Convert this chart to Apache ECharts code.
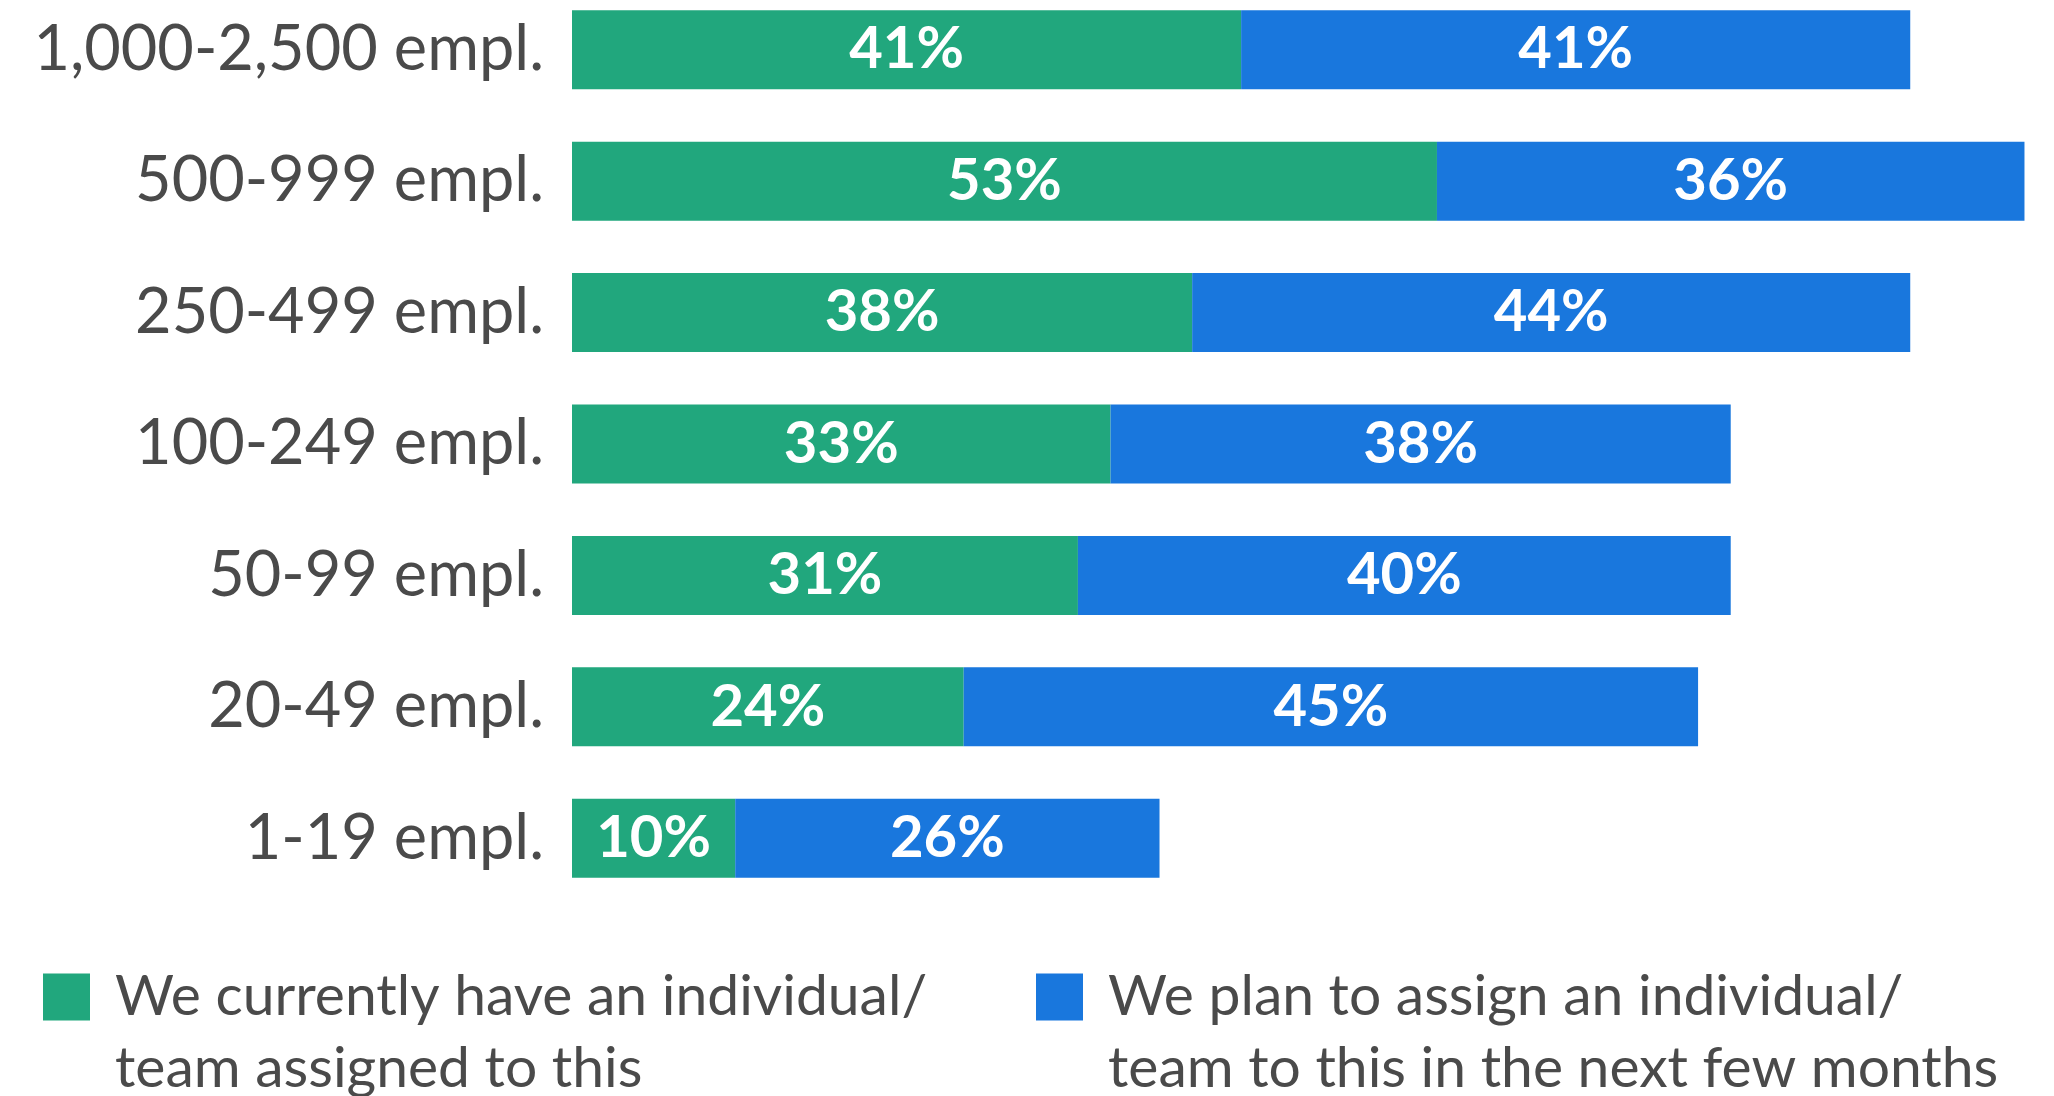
<!DOCTYPE html>
<html>
<head>
<meta charset="utf-8">
<script src="https://cdn.jsdelivr.net/npm/echarts@6/dist/echarts.min.js"></script>
<style>
  html, body { margin: 0; padding: 0; background: #ffffff; }
  #chart { width: 2054px; height: 1096px; }
</style>
</head>
<body>
<div id="chart"></div>
<script>
// Company size groups, listed top to bottom
const categories = ['1,000-2,500 empl.', '500-999 empl.', '250-499 empl.', '100-249 empl.', '50-99 empl.', '20-49 empl.', '1-19 empl.'];
// Share of companies (%) per group
const currentlyAssigned = [41, 53, 38, 33, 31, 24, 10];
const planToAssign = [41, 36, 44, 38, 40, 45, 26];
const seriesNames = [
  'We currently have an individual/\nteam assigned to this',
  'We plan to assign an individual/\nteam to this in the next few months'
];

const GREEN = '#21a77d';
const BLUE = '#1977dd';
const TEXT = '#4a4a4a';
const FONT = 'Lato, "Open Sans", sans-serif';

const chart = echarts.init(document.getElementById('chart'));

const valueLabel = {
  show: true,
  position: 'inside',
  color: '#ffffff',
  fontFamily: FONT,
  fontWeight: 'bold',
  fontSize: 58,
  formatter: p => p.value + '%'
};

// legend text: a leading blank line puts the first text line level with the swatch
const legendText = {
  color: TEXT,
  fontFamily: FONT,
  fontSize: 57,
  lineHeight: 72,
  padding: [0, 0, 0, 20]
};
const legendFormatter = name => '\n' + name;

chart.setOption({
  animation: false,
  backgroundColor: '#ffffff',
  grid: { left: 572, top: -16, width: 1632, height: 920, containLabel: false, outerBoundsMode: 'none' },
  xAxis: {
    type: 'value', min: 0, max: 100, show: false
  },
  yAxis: {
    type: 'category',
    data: categories,
    inverse: true,
    axisLine: { show: false },
    axisTick: { show: false },
    axisLabel: { color: TEXT, fontFamily: FONT, fontSize: 63, margin: 28 }
  },
  legend: [
    {
      data: [seriesNames[0]], left: 43, top: 889, padding: 0,
      itemWidth: 47, itemHeight: 47, icon: 'rect', textStyle: legendText,
      formatter: legendFormatter
    },
    {
      data: [seriesNames[1]], left: 1036, top: 889, padding: 0,
      itemWidth: 47, itemHeight: 47, icon: 'rect', textStyle: legendText,
      formatter: legendFormatter
    }
  ],
  series: [
    {
      name: seriesNames[0], type: 'bar', stack: 'total', barWidth: 79,
      itemStyle: { color: GREEN }, label: valueLabel, data: currentlyAssigned
    },
    {
      name: seriesNames[1], type: 'bar', stack: 'total', barWidth: 79,
      itemStyle: { color: BLUE }, label: valueLabel, data: planToAssign
    }
  ]
});
</script>
</body>
</html>
